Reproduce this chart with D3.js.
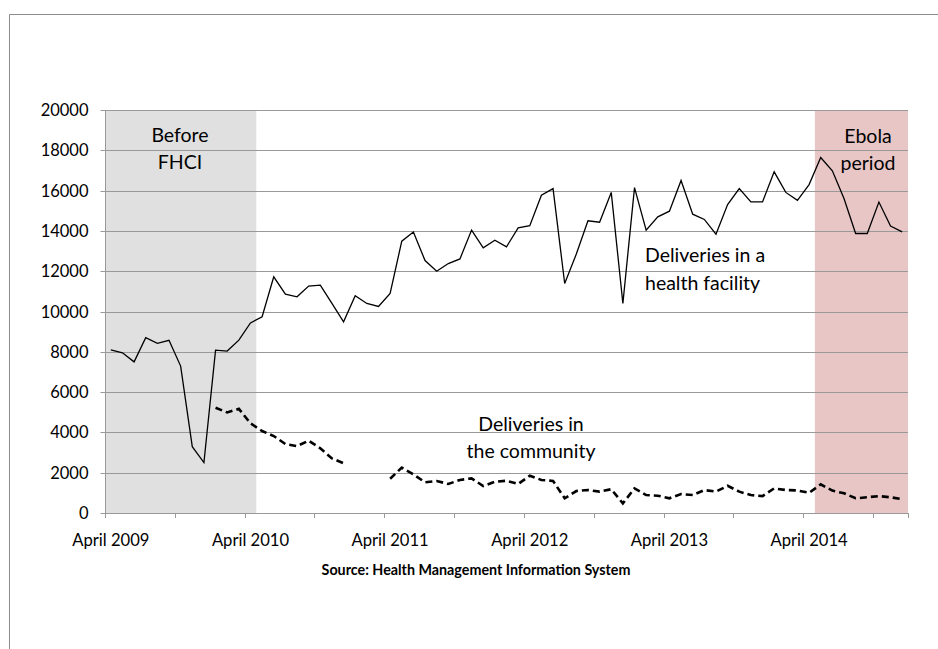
<!DOCTYPE html>
<html>
<head>
<meta charset="utf-8">
<script src="https://cdn.jsdelivr.net/npm/d3@7"></script>
<style>
  html, body { margin: 0; padding: 0; background: #fff; }
  svg { display: block; }
  text { font-family: Lato, "Open Sans", sans-serif; fill: #000; }
</style>
</head>
<body>
<svg id="chart" width="938" height="649"></svg>
<script>
// ---------- data ----------
const months = [
  "2009-04","2009-05","2009-06","2009-07","2009-08","2009-09","2009-10","2009-11","2009-12",
  "2010-01","2010-02","2010-03","2010-04","2010-05","2010-06","2010-07","2010-08","2010-09",
  "2010-10","2010-11","2010-12","2011-01","2011-02","2011-03","2011-04","2011-05","2011-06",
  "2011-07","2011-08","2011-09","2011-10","2011-11","2011-12","2012-01","2012-02","2012-03",
  "2012-04","2012-05","2012-06","2012-07","2012-08","2012-09","2012-10","2012-11","2012-12",
  "2013-01","2013-02","2013-03","2013-04","2013-05","2013-06","2013-07","2013-08","2013-09",
  "2013-10","2013-11","2013-12","2014-01","2014-02","2014-03","2014-04","2014-05","2014-06",
  "2014-07","2014-08","2014-09","2014-10","2014-11","2014-12"
];
const facilityDeliveries = [
  8100, 7950, 7500, 8700, 8420, 8570, 7290, 3290, 2500,
  8085, 8035, 8580, 9430, 9740, 11720, 10860, 10730, 11260,
  11310, 10400, 9490, 10780, 10400, 10250, 10900, 13490, 13940,
  12530, 12000, 12380, 12610, 14040, 13160, 13540, 13210, 14150,
  14260, 15770, 16100, 11390, 12850, 14500, 14430, 15910, 10400,
  16150, 14040, 14700, 14980, 16500, 14830, 14570, 13840, 15310,
  16100, 15440, 15440, 16930, 15910, 15520, 16300, 17640, 16980,
  15610, 13870, 13870, 15430, 14240, 13950
];
const communityDeliveries = [
  null, null, null, null, null, null, null, null, null,
  5220, 4990, 5170, 4450, 4070, 3820, 3420, 3320, 3590,
  3210, 2710, 2470, null, null, null, 1700, 2250, 1920,
  1520, 1590, 1440, 1640, 1720, 1340, 1550, 1600, 1440,
  1850, 1640, 1590, 730, 1090, 1140, 1060, 1180, 480,
  1220, 890, 860, 730, 940, 890, 1140, 1060, 1350,
  1060, 890, 840, 1220, 1140, 1120, 1000, 1420, 1110,
  980, 730, 780, 840, 780, 690
];
const yTicks = [0, 2000, 4000, 6000, 8000, 10000, 12000, 14000, 16000, 18000, 20000];
const xTickLabels = ["2009-04","2010-04","2011-04","2012-04","2013-04","2014-04"];
const xLabelText = ["April 2009","April 2010","April 2011","April 2012","April 2013","April 2014"];
const periodBefore = ["2009-04", "2010-04"];   // Before FHCI
const periodEbola = ["2014-05", "2014-12"];    // Ebola period

(function () {
  const svg = d3.select("#chart");
  const pL = 105, pR = 908, pT = 110, pB = 513;

  const x = d3.scaleBand().domain(months).range([pL, pR]).padding(0);
  const y = d3.scaleLinear().domain([0, 20000]).range([pB, pT]);
  const cx = m => x(m) + x.bandwidth() / 2;

  // outer frame
  svg.append("path")
    .attr("d", "M9.5,649 L9.5,14.5 L938,14.5")
    .attr("fill", "none").attr("stroke", "#8c8c8c").attr("stroke-width", 1);

  // shaded periods
  svg.append("rect")
    .attr("x", x(periodBefore[0])).attr("y", pT)
    .attr("width", x(periodBefore[1]) + x.bandwidth() - x(periodBefore[0]))
    .attr("height", pB - pT).attr("fill", "#e0e0e0");
  svg.append("rect")
    .attr("x", x(periodEbola[0])).attr("y", pT)
    .attr("width", x(periodEbola[1]) + x.bandwidth() - x(periodEbola[0]))
    .attr("height", pB - pT).attr("fill", "#e8c6c6");

  // gridlines
  svg.append("g").selectAll("line").data(yTicks.filter(d => d > 0)).join("line")
    .attr("x1", pL).attr("x2", pR)
    .attr("y1", d => Math.round(y(d)) + 0.5).attr("y2", d => Math.round(y(d)) + 0.5)
    .attr("stroke", "#999").attr("stroke-width", 1);

  // y axis
  const yAxis = svg.append("g").attr("transform", `translate(${pL + 0.5},0.5)`)
    .call(d3.axisLeft(y).tickValues(yTicks).tickSize(5).tickPadding(12).tickFormat(d3.format("d")));
  yAxis.select(".domain").attr("stroke", "#999").attr("d", `M0,${pB}V${pT}`);
  yAxis.selectAll(".tick line").attr("stroke", "#999");
  yAxis.selectAll(".tick text").attr("font-size", 16.5).attr("font-family", "Lato").attr("fill", "#000");
  yAxis.selectAll(".tick").attr("transform", d => `translate(0,${Math.round(y(d))})`);

  // x axis line
  svg.append("line").attr("x1", pL).attr("x2", pR)
    .attr("y1", pB + 0.5).attr("y2", pB + 0.5)
    .attr("stroke", "#999");
  // x tick marks every 6 months at category boundaries
  const tickXs = months.filter((m, i) => i % 6 === 0).map(m => x(m)).concat([pR]);
  svg.append("g").selectAll("line").data(tickXs).join("line")
    .attr("x1", d => Math.round(d) + 0.5).attr("x2", d => Math.round(d) + 0.5)
    .attr("y1", pB).attr("y2", pB + 5)
    .attr("stroke", "#999");
  // x labels
  svg.append("g").selectAll("text").data(xTickLabels).join("text")
    .attr("x", d => cx(d)).attr("y", 546)
    .attr("text-anchor", "middle").attr("font-size", 16.6)
    .text((d, i) => xLabelText[i]);

  // lines
  const lineGen = d3.line()
    .defined(d => d.v !== null)
    .x(d => cx(d.m)).y(d => y(d.v));

  svg.append("path")
    .datum(months.map((m, i) => ({ m, v: facilityDeliveries[i] })))
    .attr("d", lineGen).attr("fill", "none")
    .attr("stroke", "#000").attr("stroke-width", 1.3).attr("stroke-linejoin", "miter");

  svg.append("path")
    .datum(months.map((m, i) => ({ m, v: communityDeliveries[i] })))
    .attr("d", lineGen).attr("fill", "none")
    .attr("stroke", "#000").attr("stroke-width", 2.6)
    .attr("stroke-dasharray", "7,4");

  // annotations
  const ann = svg.append("g").attr("font-size", 19.5);
  ann.append("text").attr("x", 180).attr("y", 142).attr("text-anchor", "middle").text("Before");
  ann.append("text").attr("x", 180).attr("y", 169).attr("text-anchor", "middle").text("FHCI");
  ann.append("text").attr("x", 868).attr("y", 143).attr("text-anchor", "middle").text("Ebola");
  ann.append("text").attr("x", 868).attr("y", 170).attr("text-anchor", "middle").text("period");
  ann.append("text").attr("x", 645).attr("y", 262).text("Deliveries in a");
  ann.append("text").attr("x", 645).attr("y", 290).text("health facility");
  ann.append("text").attr("x", 531).attr("y", 431).attr("text-anchor", "middle").text("Deliveries in");
  ann.append("text").attr("x", 531).attr("y", 458).attr("text-anchor", "middle").text("the community");

  // source
  svg.append("text").attr("x", 476).attr("y", 575)
    .attr("text-anchor", "middle").attr("font-size", 14.3).attr("font-weight", "bold")
    .text("Source: Health Management Information System");
})();
</script>
</body>
</html>
